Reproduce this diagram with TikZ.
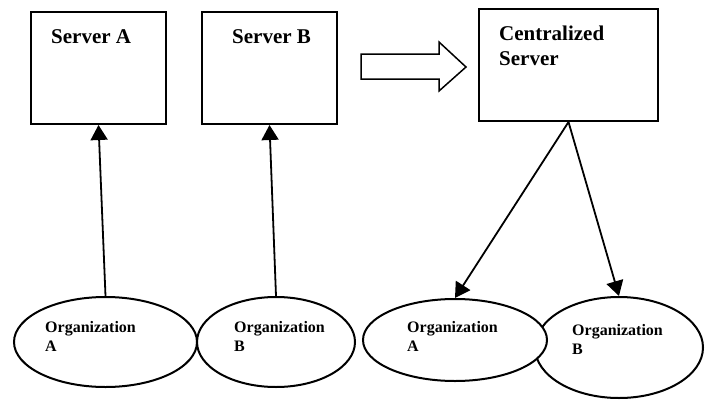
\documentclass[tikz,border=0pt]{standalone}
\usepackage{fontspec}
\setmainfont{Liberation Serif}
\usetikzlibrary{shapes.geometric,arrows.meta}

\begin{document}
\begin{tikzpicture}[x=1pt,y=-1pt,
    server/.style ={rectangle, draw, line width=2pt, inner sep=0pt},
    organization/.style ={ellipse, draw, fill=white, line width=2pt, inner sep=0pt},
    link/.style ={line width=1.8pt, -{Triangle[length=15pt,width=17pt]}},
    title/.style ={anchor=north west, inner sep=0pt, align=left, font=\fontsize{21}{25}\selectfont\bfseries},
    orgname/.style ={anchor=north west, inner sep=0pt, align=left, font=\fontsize{16}{19}\selectfont\bfseries}]
   \useasboundingbox (0,0) rectangle (709,399);
   % servers
   \node[server, minimum width=135pt, minimum height=112pt,
     label={[title, xshift=21pt, yshift=-18pt]north west:Server A}] (srvA) at (98.5,68) {};
   \node[server, minimum width=135pt, minimum height=112pt,
     label={[title, xshift=31pt, yshift=-18pt]north west:Server B}] (srvB) at (269.5,68) {};
   \node[server, minimum width=179pt, minimum height=112pt,
     label={[title, xshift=21pt, yshift=-18pt]north west:Centralized\\Server}] (srvC) at (568.5,65) {};
   % block arrow
   \draw[line width=1.5pt, line join=miter] (361,54) -- (439,54) -- (439,42) -- (466,67)
     -- (439,91) -- (439,79) -- (361,79) -- cycle;
   % organizations
   \node[organization, minimum width=183pt, minimum height=90pt,
     label={[orgname, xshift=-60.5pt, yshift=-25pt]north:Organization\\A}] (orgA) at (105.5,342) {};
   \node[organization, minimum width=158pt, minimum height=90pt,
     label={[orgname, xshift=-42pt, yshift=-25pt]north:Organization\\B}] (orgB) at (276,342) {};
   \node[organization, minimum width=168pt, minimum height=101pt,
     label={[orgname, xshift=-47pt, yshift=-28pt]north:Organization\\B}] (orgBB) at (619,347.5) {};
   \node[organization, minimum width=184pt, minimum height=82pt,
     label={[orgname, xshift=-48pt, yshift=-23pt]north:Organization\\A}] (orgAA) at (455,340) {};
   % links
   \draw[link] (orgA.north) -- (srvA.south);
   \draw[link] (orgB.north) -- (srvB.south);
   \draw[link] (srvC.south) -- (orgAA.north);
   \draw[link] (srvC.south) -- (orgBB.north);
\end{tikzpicture}
\end{document}
